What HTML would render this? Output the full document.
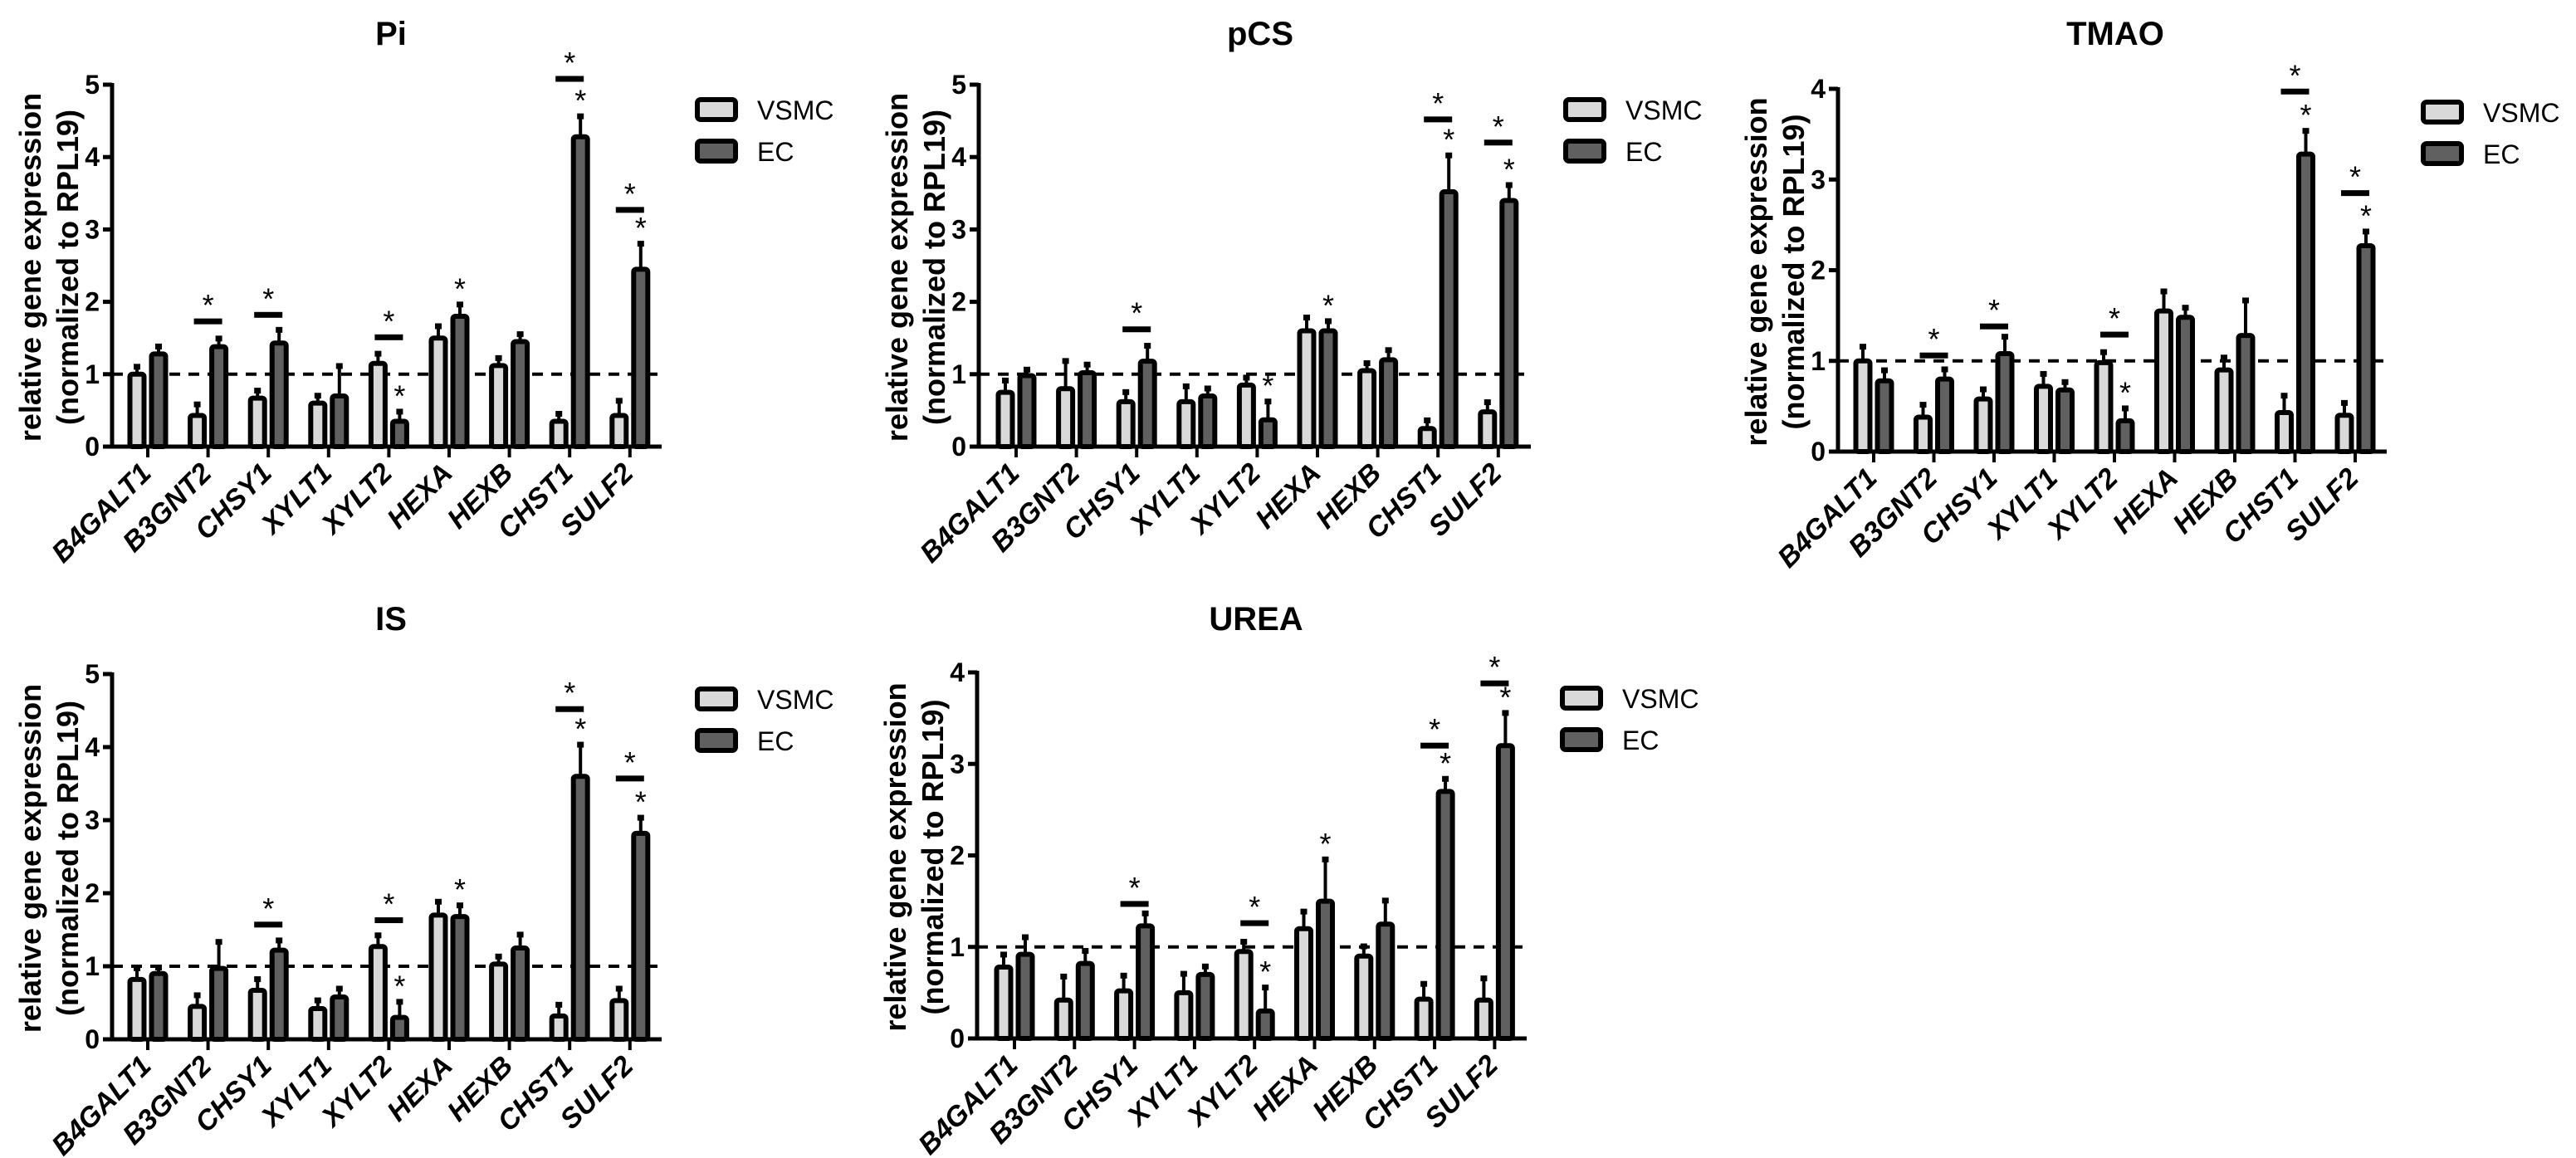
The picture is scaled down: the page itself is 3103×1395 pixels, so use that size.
<!DOCTYPE html>
<html>
<head>
<meta charset="utf-8">
<style>
html,body{margin:0;padding:0;background:#fff;}
svg{display:block;}
.narrow{font-family:"Liberation Sans Narrow","Liberation Sans",sans-serif;}
</style>
</head>
<body>
<svg id="chart" width="3103" height="1395" viewBox="0 0 3103 1395" xmlns="http://www.w3.org/2000/svg"></svg>
<script>
// shared categories
const categories = ["B4GALT1","B3GNT2","CHSY1","XYLT1","XYLT2","HEXA","HEXB","CHST1","SULF2"];
const seriesNames = ["VSMC","EC"];

// Pi
const piVSMC = [1.0,0.43,0.67,0.6,1.15,1.5,1.12,0.35,0.43];
const piVSMCErr = [0.12,0.17,0.12,0.12,0.15,0.18,0.12,0.12,0.22];
const piEC = [1.28,1.38,1.43,0.7,0.35,1.8,1.45,4.28,2.45];
const piECErr = [0.12,0.13,0.2,0.43,0.15,0.18,0.12,0.3,0.37];
const piSig = [null,1.73,1.82,null,1.51,null,null,5.08,3.27];
const piECStar = [0,0,0,0,1,1,0,1,1];
const piTicks = [0,1,2,3,4,5];

// pCS
const pcsVSMC = [0.75,0.8,0.62,0.62,0.85,1.6,1.05,0.25,0.48];
const pcsVSMCErr = [0.18,0.4,0.15,0.23,0.12,0.2,0.12,0.13,0.15];
const pcsEC = [0.98,1.02,1.18,0.7,0.37,1.6,1.2,3.52,3.4];
const pcsECErr = [0.1,0.13,0.23,0.12,0.27,0.15,0.15,0.52,0.23];
const pcsSig = [null,null,1.62,null,null,null,null,4.52,4.2];
const pcsECStar = [0,0,0,0,1,1,0,1,1];
const pcsTicks = [0,1,2,3,4,5];

// TMAO
const tmaoVSMC = [1.0,0.38,0.58,0.72,0.98,1.55,0.9,0.43,0.4];
const tmaoVSMCErr = [0.17,0.15,0.12,0.15,0.13,0.23,0.15,0.2,0.15];
const tmaoEC = [0.78,0.8,1.08,0.68,0.34,1.48,1.28,3.28,2.27];
const tmaoECErr = [0.13,0.12,0.2,0.1,0.15,0.12,0.4,0.27,0.17];
const tmaoSig = [null,1.06,1.38,null,1.29,null,null,3.97,2.85];
const tmaoECStar = [0,0,0,0,1,0,0,1,1];
const tmaoTicks = [0,1,2,3,4];

// IS
const isVSMC = [0.82,0.45,0.67,0.42,1.27,1.7,1.03,0.32,0.53];
const isVSMCErr = [0.17,0.17,0.17,0.13,0.17,0.2,0.12,0.17,0.18];
const isEC = [0.9,0.97,1.22,0.58,0.3,1.68,1.25,3.6,2.82];
const isECErr = [0.1,0.38,0.15,0.13,0.23,0.17,0.2,0.45,0.23];
const isSig = [null,null,1.57,null,1.63,null,null,4.52,3.57];
const isECStar = [0,0,0,0,1,1,0,1,1];
const isTicks = [0,1,2,3,4,5];

// UREA
const ureaVSMC = [0.78,0.42,0.52,0.5,0.95,1.2,0.9,0.43,0.42];
const ureaVSMCErr = [0.15,0.27,0.18,0.22,0.12,0.2,0.12,0.18,0.25];
const ureaEC = [0.92,0.82,1.23,0.7,0.3,1.5,1.25,2.7,3.2];
const ureaECErr = [0.2,0.15,0.15,0.1,0.27,0.47,0.27,0.15,0.37];
const ureaSig = [null,null,1.47,null,1.26,null,null,3.2,3.88];
const ureaECStar = [0,0,0,0,1,1,0,1,1];
const ureaTicks = [0,1,2,3,4];

const NS = "http://www.w3.org/2000/svg";
const svg = document.getElementById("chart");
function mk(tag, attrs, parent){
  const e = document.createElementNS(NS, tag);
  for (const k in attrs) e.setAttribute(k, attrs[k]);
  (parent||svg).appendChild(e);
  return e;
}

const panels = [
  {key:"pi", title:"Pi", vs:piVSMC, vsE:piVSMCErr, ec:piEC, ecE:piECErr, sig:piSig, star:piECStar, ticks:piTicks,
   ax:135, y0:538, yTop:102, t0:178, step:72.6, right:797, legX:840, legY:120, titleX:471, titleY:40},
  {key:"pcs", title:"pCS", vs:pcsVSMC, vsE:pcsVSMCErr, ec:pcsEC, ecE:pcsECErr, sig:pcsSig, star:pcsECStar, ticks:pcsTicks,
   ax:1179, y0:538, yTop:102, t0:1224, step:72.6, right:1844, legX:1886, legY:120, titleX:1518, titleY:40},
  {key:"tmao", title:"TMAO", vs:tmaoVSMC, vsE:tmaoVSMCErr, ec:tmaoEC, ecE:tmaoECErr, sig:tmaoSig, star:tmaoECStar, ticks:tmaoTicks,
   ax:2214, y0:544, yTop:107, t0:2257, step:72.5, right:2875, legX:2919, legY:123, titleX:2548, titleY:40},
  {key:"is", title:"IS", vs:isVSMC, vsE:isVSMCErr, ec:isEC, ecE:isECErr, sig:isSig, star:isECStar, ticks:isTicks,
   ax:135, y0:1252, yTop:812, t0:178, step:72.6, right:797, legX:840, legY:830, titleX:471, titleY:745},
  {key:"urea", title:"UREA", vs:ureaVSMC, vsE:ureaVSMCErr, ec:ureaEC, ecE:ureaECErr, sig:ureaSig, star:ureaECStar, ticks:ureaTicks,
   ax:1177, y0:1251, yTop:810, t0:1222, step:72.3, right:1839, legX:1882, legY:829, titleX:1513, titleY:745}
];

const FILL_V = "#d9d9d9", FILL_E = "#606060";

panels.forEach(p => {
  const g = mk("g", {});
  
  
  const ymax = p.ticks[p.ticks.length-1];
  const yS = v => p.y0 - v * (p.y0 - p.yTop) / ymax;
  const xS = i => p.t0 + i * p.step;

  // title
  const t = mk("text", {x:p.titleX, y:p.titleY+14, "text-anchor":"middle", "font-size":40, "font-weight":"bold", class:"narrow"}, g);
  t.textContent = p.title;
  
  

  // y label
  const cy = (p.y0 + p.yTop)/2 + 2;
  const yl = mk("text", {transform:`translate(${p.ax-86},${cy}) rotate(-90)`, "text-anchor":"middle", "font-size":36, "font-weight":"bold", "font-family":"Liberation Sans, sans-serif"}, g);
  yl.textContent = "relative gene expression";
  
  
  const yl2 = mk("text", {transform:`translate(${p.ax-41},${cy}) rotate(-90)`, "text-anchor":"middle", "font-size":36, "font-weight":"bold", "font-family":"Liberation Sans, sans-serif"}, g);
  yl2.textContent = "(normalized to RPL19)";
  
  

  // y ticks
  p.ticks.forEach(v => {
    const y = yS(v);
    const tk = mk("line", {x1:p.ax-11, x2:p.ax, y1:y, y2:y, stroke:"#000", "stroke-width":5}, g);
    
    
    const tl = mk("text", {x:p.ax-15, y:y+11, "text-anchor":"end", "font-size":32, "font-weight":"bold", class:"narrow"}, g);
    tl.textContent = v;
    
    
  });

  // dashed reference
  const dl = mk("line", {x1:p.ax, x2:p.right, y1:yS(1), y2:yS(1), stroke:"#000", "stroke-width":4, "stroke-dasharray":"13 10"}, g);
  
  

  // bars
  categories.forEach((c, i) => {
    const cx = xS(i);
    [[p.vs, p.vsE, FILL_V, -13, "vsmc"], [p.ec, p.ecE, FILL_E, 13, "ec"]].forEach(([vals, errs, fill, off, nm]) => {
      const bx = cx + off;
      const top = yS(vals[i]);
      const et = yS(vals[i] + errs[i]);
      const el = mk("line", {x1:bx, x2:bx, y1:top, y2:et, stroke:"#000", "stroke-width":4}, g);
      
      
      const cap = mk("rect", {x:bx-4, y:et-2, width:8, height:7, fill:"#000"}, g);
      
      
      const r = mk("rect", {x:bx-8.5, y:top, width:17, height:p.y0-top, fill:fill, stroke:"#000", "stroke-width":6, rx:3}, g);
      
      
      if (nm === "ec" && p.star[i]) {
        const s = mk("text", {x:bx, y:et-5, "text-anchor":"middle", "font-size":36, "font-family":"Liberation Sans, sans-serif"}, g);
        s.textContent = "*";
        
        
      }
    });
    if (p.sig[i] !== null) {
      const sy = yS(p.sig[i]);
      const sb = mk("rect", {x:cx-17, y:sy-3.5, width:34, height:7, fill:"#000"}, g);
      
      
      const s2 = mk("text", {x:cx, y:sy-7, "text-anchor":"middle", "font-size":36, "font-family":"Liberation Sans, sans-serif"}, g);
      s2.textContent = "*";
      
      
    }
    // x tick & label
    const xt = mk("line", {x1:cx, x2:cx, y1:p.y0, y2:p.y0+13, stroke:"#000", "stroke-width":4}, g);
    
    
    const xl = mk("text", {transform:`translate(${cx+6},${p.y0+34}) rotate(-45)`, "text-anchor":"end", "font-size":34, "font-weight":"bold", "font-style":"italic", "font-family":"Liberation Sans, sans-serif"}, g);
    xl.textContent = c;
    
    
  });

  // axes
  const ya = mk("line", {x1:p.ax, x2:p.ax, y1:p.yTop-2, y2:p.y0+2.5, stroke:"#000", "stroke-width":5}, g);
  
  
  const xa = mk("line", {x1:p.ax-2.5, x2:p.right, y1:p.y0, y2:p.y0, stroke:"#000", "stroke-width":5}, g);
  
  

  // legend
  seriesNames.forEach((n, k) => {
    const ly = p.legY + k * 50;
    const lb = mk("rect", {x:p.legX, y:ly, width:46, height:24, fill:k? FILL_E:FILL_V, stroke:"#000", "stroke-width":6, rx:4}, g);
    
    
    const lt = mk("text", {x:p.legX+72, y:ly+24, "font-size":32, class:"narrow"}, g);
    lt.textContent = n;
    
    
  });
});
</script>
</body>
</html>
